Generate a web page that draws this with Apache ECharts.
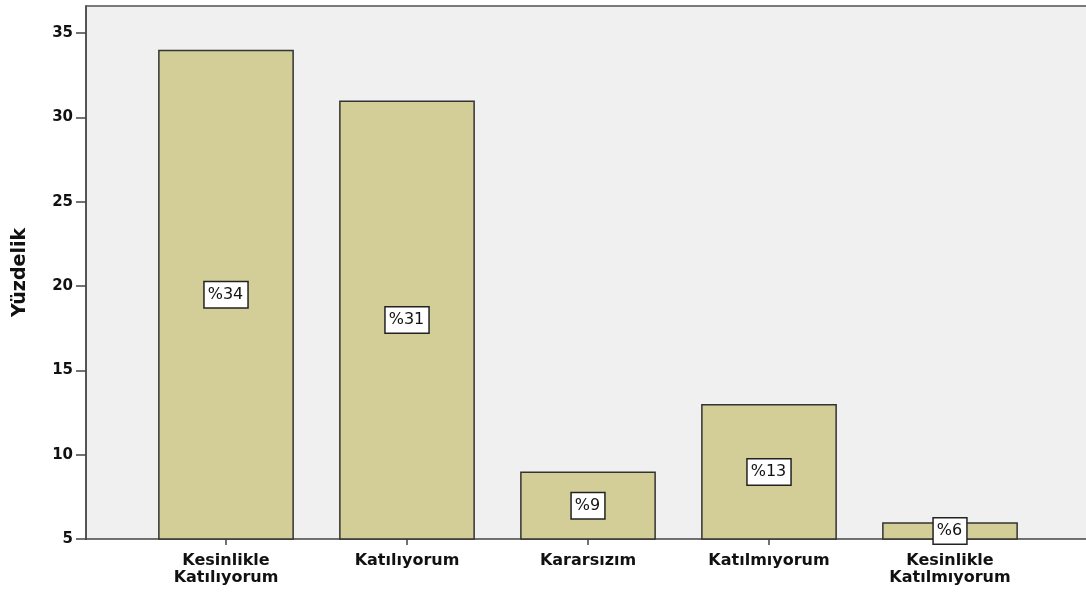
<!DOCTYPE html>
<html><head><meta charset="utf-8">
<script src="https://cdn.jsdelivr.net/npm/echarts@6/dist/echarts.min.js"></script>
<style>html,body{margin:0;padding:0;background:#fff}#c{width:1086px;height:593px}</style>
</head><body><div id="c"></div>
<script>
const categories = ['Kesinlikle\nKatılıyorum', 'Katılıyorum', 'Kararsızım', 'Katılmıyorum', 'Kesinlikle\nKatılmıyorum'];
const values = [34, 31, 9, 13, 6];
const labels = ['%34', '%31', '%9', '%13', '%6'];
const yTicks = [5, 10, 15, 20, 25, 30, 35];
const yMin = 5, yMax = 36.6;

const chart = echarts.init(document.getElementById('c'));
const font = 'DejaVu Sans, Verdana, sans-serif';
chart.setOption({
  animation: false,
  grid: [
    {left: 86, right: 0, top: 6, bottom: 54, show: true, backgroundColor: '#f0f0f0', borderWidth: 0},
    {left: 135.5, right: 45.5, top: 6, bottom: 54}
  ],
  graphic: [{type: 'line', shape: {x1: 86, y1: 6, x2: 1086, y2: 6}, style: {stroke: '#7a7a7a', lineWidth: 2}}],
  xAxis: [
    {gridIndex: 0, type: 'value', min: 0, max: 1, axisLine: {show: true, onZero: false, lineStyle: {color: '#444', width: 1.5}}, axisTick: {show: false}, axisLabel: {show: false}, splitLine: {show: false}},
    {gridIndex: 1, type: 'category', data: categories, axisLine: {show: false}, axisTick: {show: true, alignWithLabel: true, length: 6, lineStyle: {color: '#444', width: 1.5}},
     axisLabel: {color: '#111', fontFamily: font, fontWeight: 'bold', fontSize: 16, lineHeight: 17, margin: 13}}
  ],
  yAxis: [
    {gridIndex: 0, type: 'value', min: yMin, max: yMax, name: 'Yüzdelik', nameLocation: 'middle', nameGap: 56, nameRotate: 90,
     nameTextStyle: {color: '#111', fontFamily: font, fontWeight: 'bold', fontSize: 19},
     axisLine: {show: true, lineStyle: {color: '#555', width: 2}},
     axisTick: {show: true, length: 10, customValues: yTicks, lineStyle: {color: '#444', width: 1.5}},
     axisLabel: {customValues: yTicks, color: '#111', fontFamily: font, fontWeight: 'bold', fontSize: 15, margin: 13},
     splitLine: {show: false}},
    {gridIndex: 1, type: 'value', min: yMin, max: yMax, show: false, splitLine: {show: false}}
  ],
  series: [{
    type: 'bar', xAxisIndex: 1, yAxisIndex: 1, barCategoryGap: '25%',
    data: values,
    itemStyle: {color: '#d3ce97', borderColor: '#333', borderWidth: 1.5},
    label: {show: true, position: 'inside', formatter: p => labels[p.dataIndex], color: '#111', fontFamily: font, fontSize: 16,
      backgroundColor: '#fff', borderColor: '#222', borderWidth: 1.5, padding: [5, 4, 4, 3]}
  }]
});
</script></body></html>
